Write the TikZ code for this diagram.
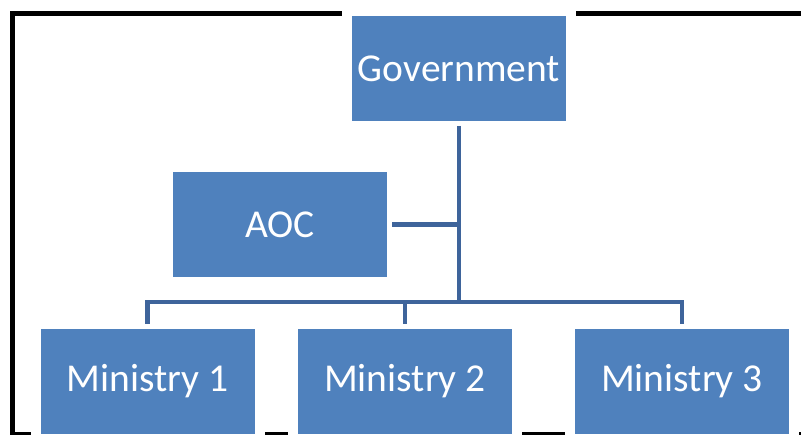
\documentclass[tikz,border=0pt]{standalone}
\usepackage{fontspec}
\setmainfont{Carlito}
\definecolor{boxblue}{RGB}{79,129,189}
\definecolor{lineblue}{RGB}{62,100,155}
\begin{document}
\begin{tikzpicture}[x=1pt,y=1pt,
  orgbox/.style={rectangle, fill=boxblue, draw=white, line width=10pt,
    minimum width=224pt, minimum height=115pt, outer sep=0pt, inner sep=0pt,
    text=white, font=\fontsize{39.5}{47}\selectfont},
  conn/.style={draw=lineblue, line width=4.5pt, line join=miter}]
\useasboundingbox (0,0) rectangle (801,435);
% frame
\draw[line width=5.5pt, line join=miter] (12.5,-2) -- (12.5,421.5) -- (803,421.5);
\draw[line width=4.5pt] (10,1) -- (803,1);
% nodes
\node[orgbox] (gov) at (459,366.5) {\raisebox{-2pt}{Government}};
\node[orgbox] (aoc) at (280,210.5) {AOC};
\node[orgbox] (m1) at (147.5,53.5) {Ministry 1};
\node[orgbox] (m2) at (405,53.5) {Ministry 2};
\node[orgbox] (m3) at (682,53.5) {Ministry 3};
\coordinate (j) at (459,133);
% connectors
\draw[conn] (gov.south) -- (j);
\draw[conn] (aoc.east) -- (aoc.east -| gov.south);
\draw[conn] (m1.north) -- (m1.north |- j) -- (m3.north |- j) -- (m3.north);
\draw[conn] (m2.north) -- (m2.north |- j);
\end{tikzpicture}
\end{document}
